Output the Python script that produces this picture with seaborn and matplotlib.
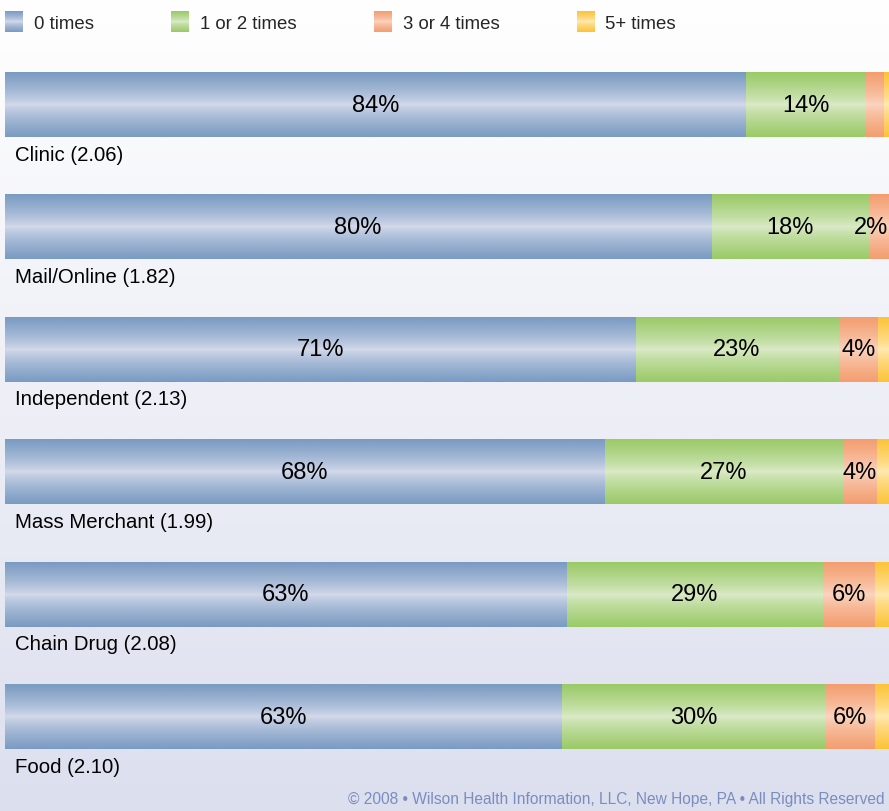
import numpy as np
import pandas as pd
import matplotlib
matplotlib.use("Agg")
import matplotlib.pyplot as plt
import seaborn as sns
from matplotlib.image import BboxImage
from matplotlib.transforms import TransformedBbox
from matplotlib.patches import Patch

# ---------------- data ----------------
categories = ["Clinic", "Mail/Online", "Independent", "Mass Merchant", "Chain Drug", "Food"]
means = [2.06, 1.82, 2.13, 1.99, 2.08, 2.10]
series_names = ["0 times", "1 or 2 times", "3 or 4 times", "5+ times"]
zero_times = [83.7, 79.8, 71.2, 67.7, 63.5, 62.9]
one_two_times = [13.5, 17.9, 23.0, 27.0, 28.9, 29.8]
three_four_times = [2.1, 2.3, 4.4, 3.8, 5.9, 5.6]
five_plus_times = [0.7, 0.0, 1.4, 1.5, 1.7, 1.7]
zero_labels = ["84%", "80%", "71%", "68%", "63%", "63%"]
one_two_labels = ["14%", "18%", "23%", "27%", "29%", "30%"]
three_four_labels = ["", "2%", "4%", "4%", "6%", "6%"]
five_plus_labels = ["", "", "", "", "", ""]

# ---------------- style ----------------
sns.set_theme(style="white")
plt.rcParams["font.family"] = ["Liberation Sans", "DejaVu Sans"]

edge_cols = [(122, 155, 194), (155, 202, 104), (243, 158, 112), (252, 196, 58)]
mid_cols = [(214, 219, 236), (220, 235, 202), (251, 214, 194), (255, 234, 182)]

def grad_rgb(edge, mid, n=64):
    y = np.linspace(0, 1, n)
    t = np.abs(y - 0.5) * 2
    t = t ** 0.75
    e = np.array(edge) / 255.0
    m = np.array(mid) / 255.0
    rgb = m[None, :] + (e - m)[None, :] * t[:, None]
    return rgb[:, None, :]

W, H = 889, 812
fig = plt.figure(figsize=(W / 100, H / 100), dpi=100)

# background vertical gradient
bg_top = np.array([255, 255, 255]) / 255
bg_bot = np.array([220, 223, 238]) / 255
yy = np.linspace(0, 1, H)
bg = bg_top[None, :] + (bg_bot - bg_top)[None, :] * yy[:, None]
bg = np.repeat(bg[:, None, :], W, axis=1)
fig.figimage(bg, xo=0, yo=0, origin="upper", zorder=-10)

ax = fig.add_axes([0, 0, 1, 1])
ax.set_zorder(1)
ax.patch.set_alpha(0)

df = pd.DataFrame({
    "category": categories,
    "s0": zero_times, "s1": one_two_times, "s2": three_four_times, "s3": five_plus_times,
})
cols = ["s0", "s1", "s2", "s3"]
cum = df[cols].cumsum(axis=1)

# draw layers from the full total down to the first series
layer_patches = {}
for k in range(3, -1, -1):
    n_before = len(ax.patches)
    sns.barplot(x=cum[cols[k]], y=df["category"], orient="h", color=np.array(edge_cols[k]) / 255,
                width=0.53, ax=ax, linewidth=0, saturation=1)
    layer_patches[k] = ax.patches[n_before:]

for k in range(3, -1, -1):
    rgb = grad_rgb(edge_cols[k], mid_cols[k])
    for p in layer_patches[k]:
        bb = TransformedBbox(p.get_bbox(), ax.transData)
        im = BboxImage(bb, interpolation="bilinear", origin="upper")
        im.set_data(rgb)
        im.set_zorder(2 + (3 - k) * 0.1)
        ax.add_artist(im)

px_per = 8.85
ax.set_xlim(-5 / px_per, (W - 5) / px_per)
band = 122.4
c0 = 105.5
ax.set_ylim((H - c0) / band, -c0 / band)
ax.axis("off")

# segment labels
label_sets = [zero_labels, one_two_labels, three_four_labels, five_plus_labels]
xmax = (W - 5) / px_per
for k in range(4):
    left = cum[cols[k]] - df[cols[k]]
    for i in range(len(categories)):
        txt = label_sets[k][i]
        if txt:
            xc = left[i] + df[cols[k]][i] / 2
            ha = "center"
            if xc + 1.3 > xmax:
                xc, ha = xmax - 0.05, "right"
            ax.text(xc, i, txt, ha=ha, va="center",
                    fontsize=17, color="black", zorder=5)

# category labels below bars
for i, (c, m) in enumerate(zip(categories, means)):
    ax.text(10 / px_per, i + 0.405, f"{c} ({m:.2f})", ha="left", va="center",
            fontsize=14.7, color="black", zorder=5)

# legend
handles = [Patch(facecolor=np.array(edge_cols[k]) / 255, edgecolor="none", label=series_names[k])
           for k in range(4)]
leg = fig.legend(handles=handles, loc="upper left", bbox_to_anchor=(5 / W, 1 - 13 / H),
                 ncol=4, frameon=False, fontsize=13.4, handlelength=0.95, handleheight=1.3,
                 handletextpad=0.6, columnspacing=4.15, borderpad=0, borderaxespad=0)
for k, hp in enumerate(leg.legend_handles):
    bb = TransformedBbox(hp.get_bbox(), hp.get_data_transform())
    im = BboxImage(bb, interpolation="bilinear", origin="upper")
    im.set_data(grad_rgb(edge_cols[k], mid_cols[k]))
    im.set_zorder(6)
    fig.add_artist(im)

fig.text(885 / W, 1 - 800 / H, "© 2008 • Wilson Health Information, LLC, New Hope, PA • All Rights Reserved",
         ha="right", va="center", fontsize=11.2, color="#7b8dbf")

fig.savefig("out.png", dpi=100)
